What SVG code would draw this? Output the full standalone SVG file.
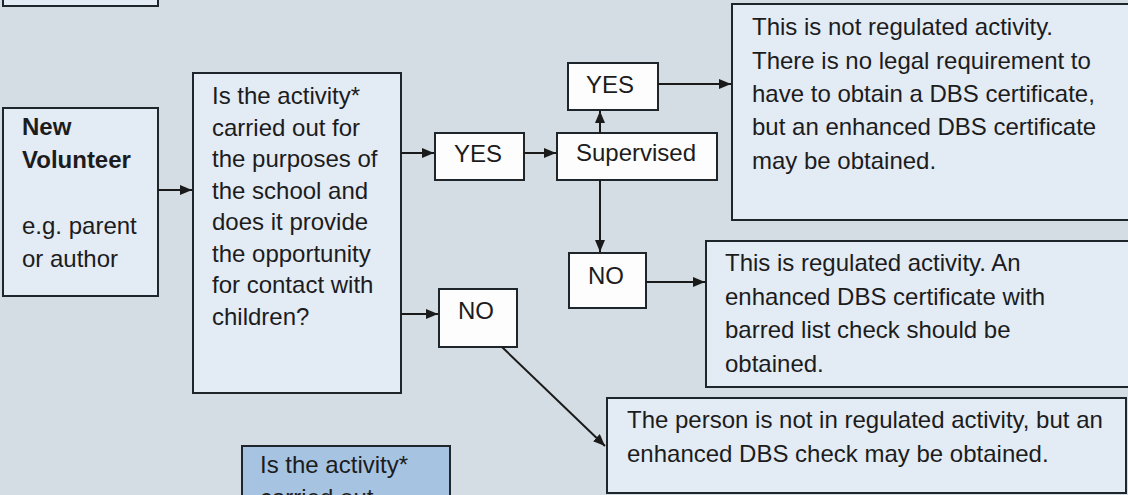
<svg xmlns="http://www.w3.org/2000/svg" width="1128" height="495" viewBox="0 0 1128 495">
  <style>
    .bg { fill: #d3dde3; }
    .box { fill: #e3ebf5; stroke: #1e262b; stroke-width: 2; }
    .wbox { fill: #fdfdfd; stroke: #1e262b; stroke-width: 2; }
    .bbox { fill: #a6c4e2; stroke: #1e262b; stroke-width: 2; }
    text { font-family: "Liberation Sans", Arial, sans-serif; font-size: 24px; fill: #1c1c1c; }
    .b { font-weight: bold; }
    .c { text-anchor: middle; }
    .con { stroke: #1a1a1a; stroke-width: 2; fill: none; marker-end: url(#ah); }
  </style>
  <defs>
    <marker id="ah" viewBox="0 0 12 10" refX="12" refY="5" markerWidth="12" markerHeight="10" markerUnits="userSpaceOnUse" orient="auto">
      <path d="M0,0 L12,5 L0,10 z" fill="#1a1a1a"/>
    </marker>
  </defs>
  <rect class="bg" x="0" y="0" width="1128" height="495"/>

  <g id="topleft">
    <rect class="box" x="3" y="-4" width="155" height="10"/>
  </g>

  <g id="volunteer">
    <rect class="box" x="3" y="108" width="155" height="188"/>
    <text class="b" x="22" y="135">New</text>
    <text class="b" x="22" y="168">Volunteer</text>
    <text x="22" y="234">e.g. parent</text>
    <text x="22" y="267">or author</text>
  </g>

  <g id="question">
    <rect class="box" x="193" y="73" width="208" height="320"/>
    <text x="212" y="104">Is the activity*</text>
    <text x="212" y="135.5">carried out for</text>
    <text x="212" y="167">the purposes of</text>
    <text x="212" y="198.5">the school and</text>
    <text x="212" y="230">does it provide</text>
    <text x="212" y="261.5">the opportunity</text>
    <text x="212" y="293">for contact with</text>
    <text x="212" y="324.5">children?</text>
  </g>

  <g id="yes1">
    <rect class="wbox" x="435" y="133" width="89" height="47"/>
    <text class="c" x="478" y="162">YES</text>
  </g>

  <g id="supervised">
    <rect class="wbox" x="557" y="133" width="160" height="47"/>
    <text class="c" x="636" y="161">Supervised</text>
  </g>

  <g id="yes2">
    <rect class="wbox" x="568" y="63" width="90" height="47"/>
    <text class="c" x="610" y="93">YES</text>
  </g>

  <g id="notregulated">
    <rect class="box" x="732" y="4" width="400" height="216"/>
    <text x="752" y="35">This is not regulated activity.</text>
    <text x="752" y="68.5">There is no legal requirement to</text>
    <text x="752" y="102">have to obtain a DBS certificate,</text>
    <text x="752" y="135">but an enhanced DBS certificate</text>
    <text x="752" y="168.5">may be obtained.</text>
  </g>

  <g id="no1">
    <rect class="wbox" x="569" y="253" width="77" height="55"/>
    <text class="c" x="606" y="284">NO</text>
  </g>

  <g id="regulated">
    <rect class="box" x="706" y="241" width="426" height="146"/>
    <text x="725" y="271">This is regulated activity. An</text>
    <text x="725" y="304.5">enhanced DBS certificate with</text>
    <text x="725" y="338">barred list check should be</text>
    <text x="725" y="371.5">obtained.</text>
  </g>

  <g id="no2">
    <rect class="wbox" x="439" y="289" width="78" height="58"/>
    <text class="c" x="476" y="319">NO</text>
  </g>

  <g id="notinregulated">
    <rect class="box" x="607" y="398" width="519" height="95"/>
    <text x="627" y="428">The person is not in regulated activity, but an</text>
    <text x="627" y="462">enhanced DBS check may be obtained.</text>
  </g>

  <g id="question2">
    <rect class="bbox" x="242" y="446" width="208" height="80"/>
    <text x="260" y="473">Is the activity*</text>
    <text x="260" y="506">carried out</text>
  </g>

  <g id="connectors">
    <line class="con" x1="158" y1="190" x2="192" y2="190"/>
    <line class="con" x1="401" y1="153" x2="434" y2="153"/>
    <line class="con" x1="524" y1="153" x2="556" y2="153"/>
    <line class="con" x1="600" y1="133" x2="600" y2="111"/>
    <line class="con" x1="658" y1="84" x2="731" y2="84"/>
    <line class="con" x1="600" y1="180" x2="600" y2="252"/>
    <line class="con" x1="646" y1="282" x2="705" y2="282"/>
    <line class="con" x1="401" y1="314" x2="438" y2="314"/>
    <line class="con" x1="502" y1="347" x2="605" y2="446"/>
  </g>
</svg>
